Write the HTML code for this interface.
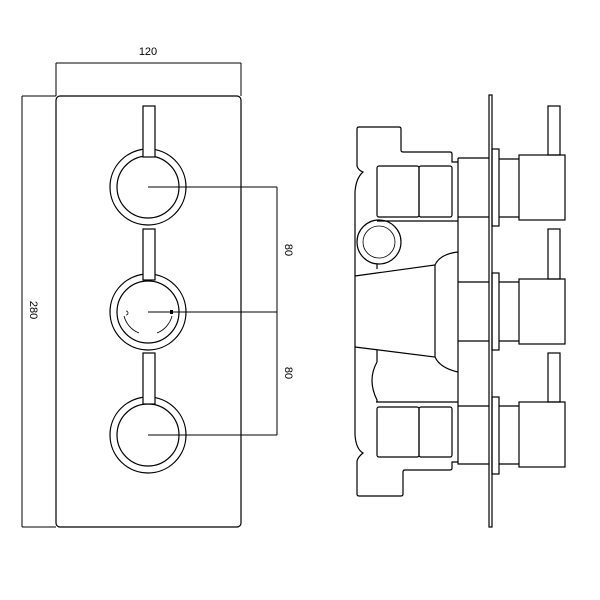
<!DOCTYPE html>
<html><head><style>html,body{margin:0;padding:0;background:#fff;width:600px;height:600px;overflow:hidden}</style></head>
<body>
<svg width="600" height="600" viewBox="0 0 600 600" xmlns="http://www.w3.org/2000/svg" fill="none" stroke="#000" stroke-width="1.2">
<!-- FRONT VIEW -->
<path d="M56 63 L241 63 M56 63 L56 96 M241 63 L241 96" stroke-width="1"/>
<text x="148" y="55" font-family="Liberation Sans, sans-serif" font-size="11" fill="#000" stroke="none" text-anchor="middle">120</text>
<path d="M22 96 L22 527 M22 96 L56 96 M22 527 L56 527" stroke-width="1"/>
<text transform="translate(30,310) rotate(90)" font-family="Liberation Sans, sans-serif" font-size="11" fill="#000" stroke="none" text-anchor="middle">280</text>
<rect x="56" y="96" width="185" height="431" rx="4"/>
<!-- knobs -->
<circle cx="148" cy="187" r="38"/><circle cx="148" cy="187" r="31"/>
<rect x="143" y="106" width="12" height="51" fill="#fff"/>
<circle cx="148" cy="312" r="38"/><circle cx="148" cy="312" r="31"/>
<rect x="143" y="229" width="12" height="51" fill="#fff"/>
<circle cx="148" cy="435" r="38"/><circle cx="148" cy="435" r="31"/>
<rect x="143" y="353" width="12" height="51" fill="#fff"/>
<path d="M124 316 A25 25 0 0 0 139 333 M172 316 A25 25 0 0 1 157 333" stroke-width="0.8"/>
<path d="M126 311 a2 2 0 1 1 0 4" stroke-width="0.8"/>
<rect x="170" y="310" width="3" height="4" fill="#000" stroke="none"/>
<!-- dims -->
<path d="M148 187 L277 187 M148 312 L277 312 M148 435 L277 435 M277 187 L277 435" stroke-width="1"/>
<text transform="translate(285,250) rotate(90)" font-family="Liberation Sans, sans-serif" font-size="11" fill="#000" stroke="none" text-anchor="middle">80</text>
<text transform="translate(285,373) rotate(90)" font-family="Liberation Sans, sans-serif" font-size="11" fill="#000" stroke="none" text-anchor="middle">80</text>
<!-- SIDE VIEW -->
<rect x="489" y="95" width="3" height="432"/>
<path d="M458 162 L452 162 L452 154 Q452 152 450 152 L403 152 Q401 152 401 150 L401 129 Q401 127 399 127 L359 127 Q357 127 357 129 L357 166 Q358 170 363 172 Q356 178 355 192 L355 435 Q356 449 363 453 Q358 457 357 461 L357 494 Q357 496 359 496 L401 496 Q403 496 403 494 L403 472 Q403 470 405 470 L450 470 Q452 470 452 468 L452 462 L458 462"/>
<rect x="377" y="166" width="42" height="51" rx="2"/>
<rect x="419" y="166" width="33" height="51" rx="2"/>
<path d="M377 221 L458 221"/>
<circle cx="379" cy="242" r="22"/><circle cx="379" cy="242" r="16" stroke-width="0.8"/>
<path d="M377 264 L377 269"/>
<path d="M355 276 L435 265 Q440 254 458 252 M355 347 L435 357 Q440 368 458 372 M435 265 L435 357"/>
<path d="M377 350 L377 362 Q367 380 377 400 L377 402 M376 402 L458 402"/>
<rect x="377" y="407" width="42" height="50" rx="2"/>
<rect x="419" y="407" width="33" height="50" rx="2"/>
<path d="M458 158 L489 158 M458 158 L458 464 L489 464 M458 217 L489 217 M458 282 L489 282 M458 341 L489 341 M458 406 L489 406"/>
<rect x="492" y="149" width="7" height="77"/>
<rect x="492" y="273" width="7" height="77"/>
<rect x="492" y="397" width="7" height="77"/>
<path d="M499 159 L519 159 M499 217 L519 217 M499 282 L519 282 M499 341 L519 341 M499 406 L519 406 M499 464 L519 464"/>
<rect x="519" y="155" width="46" height="65"/>
<rect x="519" y="279" width="46" height="65"/>
<rect x="519" y="402" width="46" height="65"/>
<rect x="548" y="106" width="12" height="49"/>
<rect x="548" y="229" width="12" height="50"/>
<rect x="548" y="353" width="12" height="49"/>
</svg>
</body></html>
